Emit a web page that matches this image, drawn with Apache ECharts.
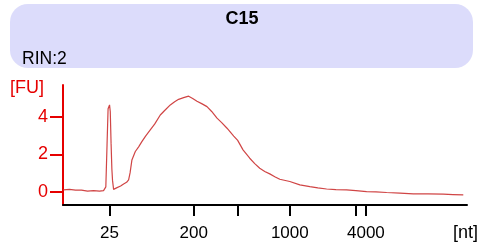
<!DOCTYPE html>
<html>
<head>
<meta charset="utf-8">
<script src="https://cdn.jsdelivr.net/npm/echarts@6/dist/echarts.min.js"></script>
<style>
html,body{margin:0;padding:0;background:#fff;}
#c{width:491px;height:248px;}
</style>
</head>
<body>
<div id="c"></div>
<script>
// Electropherogram: migration time (s) vs fluorescence [FU]
const times = [17.06,17.8,18.55,19.29,20.04,20.78,21.52,22.02,22.30,22.45,22.58,22.76,22.85,22.95,23.05,23.13,23.26,23.63,24.13,24.50,24.87,25.12,25.30,25.53,25.95,26.36,26.76,27.22,27.80,28.34,29.04,29.58,30.28,30.82,31.31,31.93,32.55,33.05,33.58,34.16,34.82,35.40,36.06,36.64,37.30,38.13,38.62,39.28,40.11,40.73,41.35,41.97,42.59,43.21,43.83,45.07,46.31,47.55,48.54,49.62,50.77,52.09,53.25,54.57,55.72,57.05,58.70,60.35,62.17,64.06,65.27,66.54];
const fu = [0.09,0.12,0.08,0.08,0.02,0.05,0.02,0.05,0.25,2.5,4.45,4.65,4.3,2.6,1.2,0.6,0.12,0.2,0.3,0.41,0.5,0.63,1.0,1.7,2.15,2.4,2.68,2.98,3.31,3.62,4.11,4.35,4.65,4.82,4.95,5.04,5.12,5.0,4.85,4.72,4.56,4.3,3.94,3.7,3.4,2.98,2.75,2.24,1.79,1.5,1.25,1.08,0.95,0.8,0.66,0.54,0.36,0.27,0.2,0.14,0.1,0.09,0.05,0.0,-0.02,-0.05,-0.08,-0.12,-0.12,-0.14,-0.16,-0.18];
// ladder positions (time) and their nt labels
const ladderTimes = [22.76,33.17,38.62,45.07,53.25,54.49];
const ladderLabels = ['25','200','','1000','','4000'];
const yTicks = [0,2,4];

const labeledTimes = ladderTimes.filter((t,i)=>ladderLabels[i] !== '');
const FONT = 'Liberation Sans';
const RED = '#e60000';

const chart = echarts.init(document.getElementById('c'), null, {renderer:'canvas'});
chart.setOption({
  animation:false,
  backgroundColor:'#ffffff',
  grid:{left:63,right:24,top:85,bottom:43},
  graphic:[
    {type:'rect',left:10,top:4,shape:{width:463,height:64,r:18},style:{fill:'#dcdcfb'},z:-1},
    {type:'text',x:242,y:19,style:{text:'C15',font:'bold 18px "Liberation Sans"',fill:'#000',align:'center',verticalAlign:'middle'}},
    {type:'text',x:22,y:59,style:{text:'RIN:2',font:'17.5px "Liberation Sans"',fill:'#000',align:'left',verticalAlign:'middle'}},
    {type:'text',x:10,y:88,style:{text:'[FU]',font:'18px "Liberation Sans"',fill:RED,align:'left',verticalAlign:'middle'}},
    {type:'text',x:453,y:233,style:{text:'[nt]',font:'18px "Liberation Sans"',fill:'#000',align:'left',verticalAlign:'middle'}}
  ],
  xAxis:{
    type:'value',min:17,max:67,
    axisLine:{onZero:false,lineStyle:{color:'#000',width:2}},
    axisTick:{show:true,length:11,lineStyle:{color:'#000',width:2},customValues:ladderTimes},
    axisLabel:{show:true,margin:20,fontFamily:FONT,fontSize:17,color:'#000',customValues:labeledTimes,
      formatter:function(v){
        let best=0,bd=1e9;
        ladderTimes.forEach((t,i)=>{const d=Math.abs(t-v); if(d<bd){bd=d;best=i;}});
        return ladderLabels[best];
      }},
    splitLine:{show:false}
  },
  yAxis:{
    type:'value',min:-0.72,max:5.72,
    axisLine:{show:true,onZero:false,lineStyle:{color:RED,width:2}},
    axisTick:{show:true,length:13,lineStyle:{color:RED,width:2},customValues:yTicks},
    axisLabel:{show:true,margin:15,fontFamily:FONT,fontSize:18,color:RED,customValues:yTicks},
    splitLine:{show:false}
  },
  series:[{
    type:'line',
    data:times.map((t,i)=>[t,fu[i]]),
    showSymbol:false,
    lineStyle:{color:'#d04545',width:1.2},
    clip:false
  }]
});
</script>
</body>
</html>
